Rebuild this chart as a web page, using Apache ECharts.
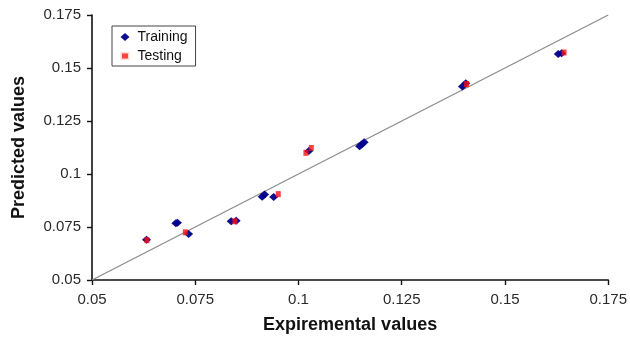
<!DOCTYPE html>
<html>
<head>
<meta charset="utf-8">
<script src="https://cdn.jsdelivr.net/npm/echarts@6/dist/echarts.min.js"></script>
<style>
html,body{margin:0;padding:0;background:#fff;}
#chart{width:630px;height:339px;}
</style>
</head>
<body>
<div id="chart"></div>
<script>
// Data
var trainingX = [0.0632, 0.0703, 0.0707, 0.0734, 0.0837, 0.0849, 0.0912, 0.0918, 0.0940, 0.1025, 0.1148, 0.1153, 0.1159, 0.1397, 0.1405, 0.1629, 0.1637];
var trainingY = [0.0690, 0.0768, 0.0770, 0.0717, 0.0777, 0.0779, 0.0893, 0.0903, 0.0892, 0.1108, 0.1131, 0.1139, 0.1150, 0.1413, 0.1428, 0.1566, 0.1570];
var testingX = [0.0633, 0.0726, 0.0846, 0.0951, 0.1018, 0.1031, 0.1407, 0.1643];
var testingY = [0.0688, 0.0725, 0.0777, 0.0905, 0.1100, 0.1123, 0.1424, 0.1573];
var lineX = [0.05, 0.175];
var lineY = [0.05, 0.175];
var tickLabels = ['0.05', '0.075', '0.1', '0.125', '0.15', '0.175'];
var axisMin = 0.05, axisMax = 0.175, axisStep = 0.025;

function pairs(xs, ys) { return xs.map(function (x, i) { return [x, ys[i]]; }); }
function fmt(v) {
  var idx = Math.round((v - axisMin) / axisStep);
  return tickLabels[idx] !== undefined ? tickLabels[idx] : String(v);
}

var labelStyle = { color: '#2a2a2a', fontSize: 15, fontFamily: 'Liberation Sans, Arial, sans-serif' };
var axisCommon = {
  type: 'value', min: axisMin, max: axisMax, interval: axisStep,
  splitLine: { show: false },
  axisLine: { show: true, onZero: false, lineStyle: { color: '#111', width: 1.6 } },
  axisTick: { show: true, inside: false, length: 5, lineStyle: { color: '#111', width: 1.4 } },
  nameLocation: 'middle',
  nameTextStyle: { color: '#111', fontSize: 18, fontWeight: 'bold', fontFamily: 'Liberation Sans, Arial, sans-serif' }
};

var chart = echarts.init(document.getElementById('chart'), null, { renderer: 'canvas' });
chart.setOption({
  animation: false,
  backgroundColor: '#fff',
  grid: { left: 92, right: 19, top: 15, bottom: 58, containLabel: false },
  xAxis: Object.assign({}, axisCommon, {
    name: 'Expiremental values', nameGap: 36,
    axisLabel: Object.assign({ formatter: fmt, margin: 12 }, labelStyle)
  }),
  yAxis: Object.assign({}, axisCommon, {
    name: 'Predicted values', nameGap: 64,
    axisLabel: Object.assign({ formatter: fmt, margin: 11 }, labelStyle)
  }),
  legend: {
    data: [
      { name: 'Training' },
      { name: 'Testing', itemStyle: { borderColor: '#fff', borderWidth: 3 } }
    ],
    orient: 'vertical',
    left: 112, top: 26,
    padding: [4, 8, 3, 7],
    itemGap: 5,
    itemWidth: 9, itemHeight: 8,
    borderColor: '#444', borderWidth: 1,
    backgroundColor: '#fff',
    textStyle: { color: '#111', fontSize: 14, lineHeight: 14, fontFamily: 'Liberation Sans, Arial, sans-serif', padding: [0, 0, 0, 3] }
  },
  series: [
    {
      type: 'line', name: 'fit', data: pairs(lineX, lineY),
      showSymbol: false, symbol: 'none', silent: true,
      lineStyle: { color: '#8c8c8c', width: 1.3 }, z: 1
    },
    {
      type: 'scatter', name: 'Training', data: pairs(trainingX, trainingY),
      symbol: 'diamond', symbolSize: [9, 8],
      itemStyle: { color: '#00008B', opacity: 0.95 }, z: 2
    },
    {
      type: 'scatter', name: 'Testing', data: pairs(testingX, testingY),
      symbol: 'rect', symbolSize: [5, 6],
      itemStyle: { color: '#ff1010' }, z: 3
    }
  ]
});
</script>
</body>
</html>
